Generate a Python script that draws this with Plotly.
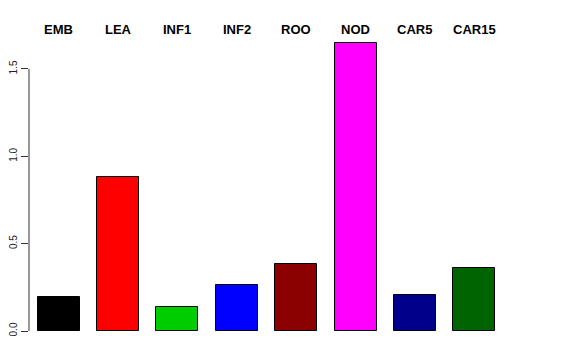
import plotly.graph_objects as go

categories = ["EMB", "LEA", "INF1", "INF2", "ROO", "NOD", "CAR5", "CAR15"]
values = [0.193, 0.882, 0.139, 0.261, 0.383, 1.646, 0.207, 0.358]
colors = ["#000000", "#FF0000", "#00CD00", "#0000FF", "#8B0000", "#FF00FF", "#00008B", "#006400"]
tick_vals = [0.0, 0.5, 1.0, 1.5]
tick_text = ["0.0", "0.5", "1.0", "1.5"]

xpos = list(range(len(categories)))

fig = go.Figure()
fig.add_trace(go.Bar(
    x=xpos, y=values, width=0.708,
    marker=dict(color=colors, line=dict(color="#000000", width=1)),
    showlegend=False, hoverinfo="skip",
))

for xi, name in zip(xpos, categories):
    fig.add_annotation(x=xi, y=1.0141, xref="x", yref="paper", text="<b>" + name + "</b>",
                       showarrow=False, xanchor="center", yanchor="middle",
                       font=dict(family="Liberation Sans, Arial, sans-serif", size=13, color="#000000"))

fig.add_shape(type="line", xref="paper", yref="y", x0=0, x1=0, y0=0, y1=1.5,
              line=dict(color="#333333", width=1))

fig.update_layout(
    width=576, height=360,
    margin=dict(l=21, r=80.4, t=25.5, b=37, pad=0, autoexpand=False),
    paper_bgcolor="white", plot_bgcolor="white",
    bargap=0,
    xaxis=dict(range=[-0.5, 7.5], visible=False, showgrid=False, zeroline=False, automargin=False),
    yaxis=dict(range=[0, 1.7], tickvals=tick_vals, ticktext=tick_text, tickangle=-90,
               ticks="outside", ticklen=7, tickcolor="#333333", tickwidth=1, automargin=False,
               showline=False, showgrid=False, zeroline=False,
               tickfont=dict(family="Liberation Sans, Arial, sans-serif", size=10, color="#222222")),
)

fig.write_html("out.html")
